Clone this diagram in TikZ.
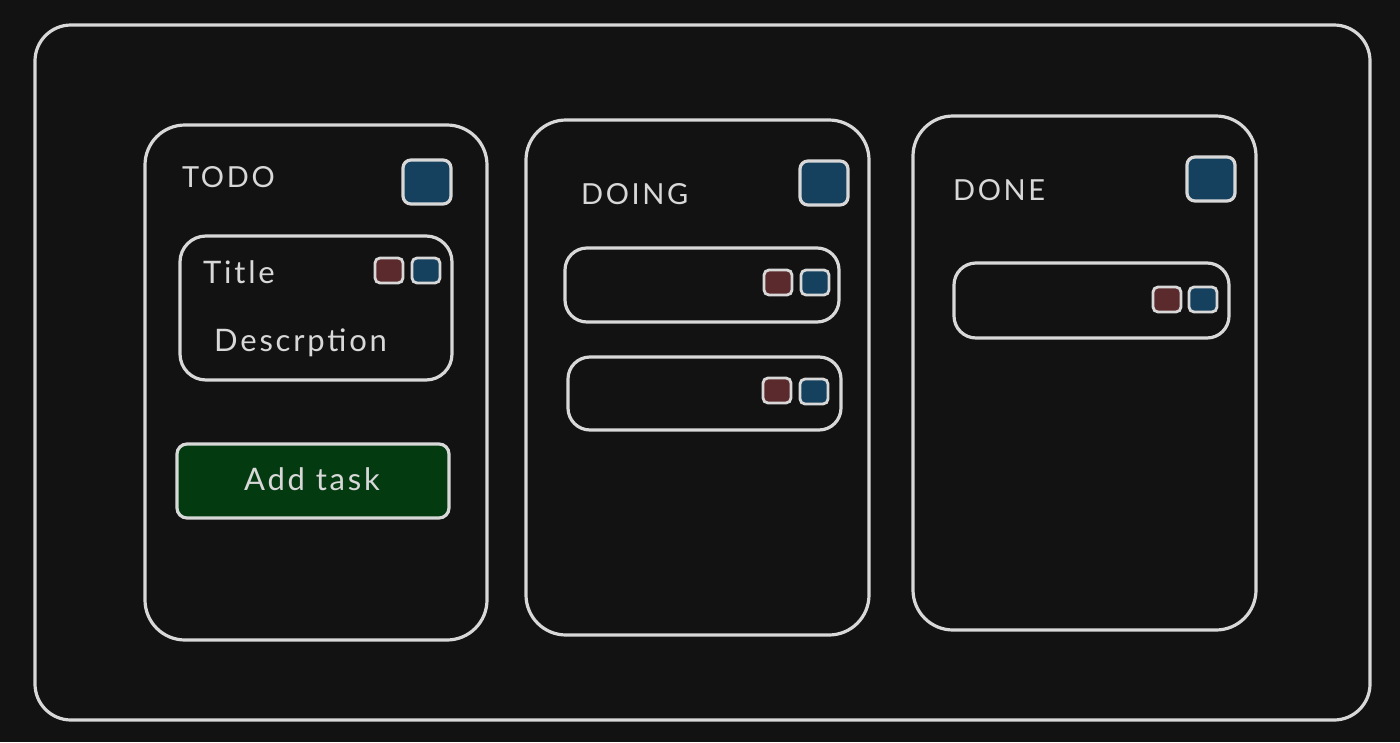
\documentclass[tikz,border=0pt]{standalone}
\usepackage{fontspec}
\setmainfont{Lato}[LetterSpace=9]
\definecolor{bg}{HTML}{121212}
\definecolor{ink}{HTML}{D8D8D8}
\definecolor{bluefill}{HTML}{15415F}
\definecolor{redfill}{HTML}{5B2A2C}
\definecolor{greenfill}{HTML}{033A10}
\tikzset{
  box/.style={draw=ink, line width=3.2pt, rectangle, anchor=north west, inner sep=0pt, outer sep=0pt},
  frame/.style={box, rounded corners=36pt},
  column/.style={box, rounded corners=40pt},
  card/.style={box, rounded corners=22pt},
  bigsq/.style={box, fill=bluefill, rounded corners=8pt, minimum width=48pt, minimum height=44pt},
  bluesq/.style={box, fill=bluefill, rounded corners=5pt, line width=2.8pt, minimum width=28pt, minimum height=25pt},
  redsq/.style={box, fill=redfill, rounded corners=5pt, line width=2.8pt, minimum width=28pt, minimum height=25pt},
  btn/.style={box, fill=greenfill, rounded corners=10pt},
  label/.style={text=ink, font=\fontsize{27}{30}\selectfont, anchor=west, inner sep=0pt},
}
\begin{document}
\begin{tikzpicture}[x=1pt,y=-1pt]
\fill[bg] (0,0) rectangle (1400,742);
\useasboundingbox (0,0) rectangle (1400,742);
% outer frame
\node[frame, minimum width=1335pt, minimum height=695pt] (outer) at (35,25) {};
% columns
\node[column, minimum width=342pt, minimum height=515pt] (todo) at (145,125) {};
\node[column, minimum width=343pt, minimum height=515pt] (doing) at (526,120) {};
\node[column, minimum width=343pt, minimum height=514pt] (done) at (913,116) {};
% headers
\node[label, font=\fontsize{29}{30}\selectfont] (todolbl) at (182,177) {TODO};
\node[label, font=\fontsize{29}{30}\selectfont] (doinglbl) at (581,194) {DOING};
\node[label, font=\fontsize{29}{30}\selectfont] (donelbl) at (953,190) {DONE};
\node[bigsq] (todoadd) at (403,160) {};
\node[bigsq] (doingadd) at (800,161) {};
\node[bigsq] (doneadd) at (1187,157) {};
% TODO task card
\node[card, rounded corners=26pt, minimum width=272pt, minimum height=144pt] (task1) at (180,236) {};
\node[label, font=\fontsize{31}{33}\selectfont] (title) at (203,272) {Title};
\node[label, font=\fontsize{31}{33}\selectfont] (desc) at (214,343) {Descrption};
\node[redsq] (task1del) at (375,258) {};
\node[bluesq] (task1mv) at (412,258) {};
% add task button
\node[btn, minimum width=272pt, minimum height=74pt] (addbtn) at (177,444) {};
\node[text=ink, font=\fontsize{31}{33}\selectfont, inner sep=0pt] (addlbl) at (312,479) {Add task};
% DOING cards
\node[card, minimum width=274pt, minimum height=74pt] (doing1) at (565,248) {};
\node[redsq] (doing1del) at (764,270) {};
\node[bluesq] (doing1mv) at (801,270) {};
\node[card, minimum width=273pt, minimum height=73pt] (doing2) at (568,357) {};
\node[redsq] (doing2del) at (763,378) {};
\node[bluesq] (doing2mv) at (800,379) {};
% DONE card
\node[card, minimum width=275pt, minimum height=75pt] (done1) at (954,263) {};
\node[redsq] (done1del) at (1153,287) {};
\node[bluesq] (done1mv) at (1189,287) {};
\end{tikzpicture}
\end{document}
